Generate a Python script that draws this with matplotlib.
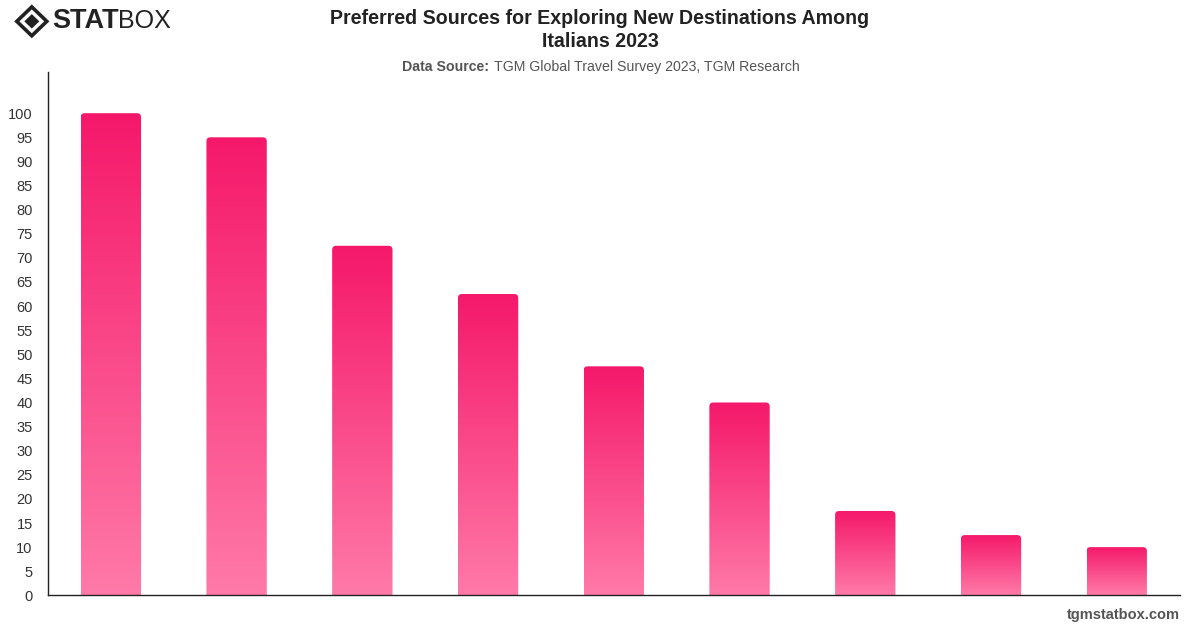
import matplotlib.pyplot as plt
import numpy as np
from matplotlib.patches import FancyBboxPatch, Polygon
from matplotlib.colors import LinearSegmentedColormap

plt.rcParams['font.family'] = ['Liberation Sans', 'DejaVu Sans']

# values (the chart has no category labels)
values = [100, 95, 72.5, 62.5, 47.5, 40, 17.5, 12.5, 10]
yticks = list(range(0, 101, 5))

title = "Preferred Sources for Exploring New Destinations Among\nItalians 2023"
source = "TGM Global Travel Survey 2023, TGM Research"

fig = plt.figure(figsize=(12, 6.28), dpi=100)
ax = fig.add_axes([0.04, 0.052, 0.943, 0.833])

cmap = LinearSegmentedColormap.from_list("pink", ["#ff7aa8", "#f5186a"])
grad = np.linspace(0, 1, 256).reshape(-1, 1)

x = np.arange(len(values))
bars = ax.bar(x, values, width=0.48, color="none")
for b in bars:
    x0, w, h = b.get_x(), b.get_width(), b.get_height()
    clip = FancyBboxPatch((x0, -5), w, h + 5,
                          boxstyle="round,pad=0,rounding_size=0.032",
                          mutation_aspect=26,
                          facecolor="none", edgecolor="none", transform=ax.transData)
    ax.add_patch(clip)
    im = ax.imshow(grad, extent=(x0, x0 + w, 0, h), origin="lower", cmap=cmap,
                   aspect="auto", zorder=2)
    im.set_clip_path(clip)

ax.set_xlim(-0.5, len(values) - 0.5)
ax.set_ylim(0, 108.5)
ax.set_yticks(yticks)
ax.set_xticks([])
ax.tick_params(axis="y", length=0, labelsize=10.5, labelcolor="#333333", pad=11)
for s in ["top", "right"]:
    ax.spines[s].set_visible(False)
for s in ["left", "bottom"]:
    ax.spines[s].set_color("#222222")
    ax.spines[s].set_linewidth(1)

fig.text(0.5, 0.952, title, ha="center", va="center", fontsize=14.1,
         fontweight="bold", color="#222222", linespacing=1.28)
fig.text(0.4075, 0.893, "Data Source:", ha="right", va="center", fontsize=10.2,
         fontweight="bold", color="#555555")
fig.text(0.4115, 0.893, source, ha="left", va="center", fontsize=10.2, color="#555555")
fig.text(0.983, 0.02, "tgmstatbox.com", ha="right", va="center", fontsize=10.5,
         fontweight="bold", color="#555555")

# logo
cx, cy = 0.0265, 0.966
dx, dy = 0.0125, 0.023
fig.patches.append(Polygon([(cx - dx, cy), (cx, cy + dy), (cx + dx, cy), (cx, cy - dy)],
                           closed=True, transform=fig.transFigure, facecolor="none",
                           edgecolor="#222222", linewidth=2.6))
fig.patches.append(Polygon([(cx - dx * 0.5, cy), (cx, cy + dy * 0.5), (cx + dx * 0.5, cy),
                            (cx, cy - dy * 0.5)], closed=True, transform=fig.transFigure,
                           facecolor="#222222", edgecolor="none"))
fig.text(0.0435, 0.966, "STAT", ha="left", va="center", fontsize=19.5, fontweight="bold",
         color="#222222")
fig.text(0.0985, 0.966, "BOX", ha="left", va="center", fontsize=18,
         color="#222222")

fig.savefig("out.png", dpi=100)
